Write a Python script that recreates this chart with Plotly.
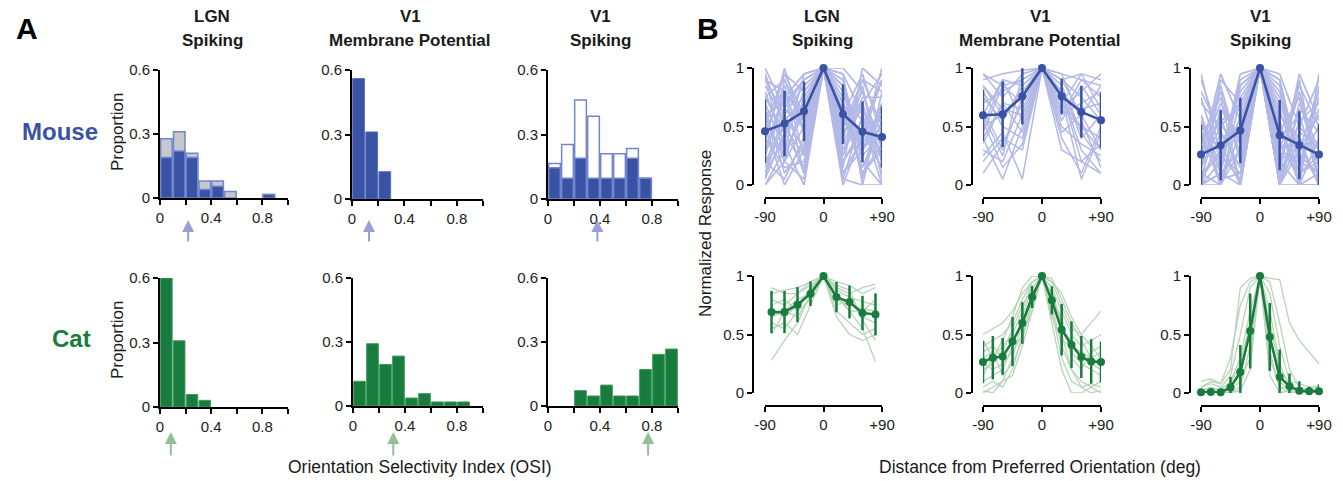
import plotly.graph_objects as go

W, H = 1343, 481
def fx(px): return px / W
def fy(py): return 1 - py / H

# ---------------- DATA ----------------
osi_bins = [0.05, 0.15, 0.25, 0.35, 0.45, 0.55, 0.65, 0.75, 0.85, 0.95]
mouse_lgn_all = [0.278, 0.31, 0.21, 0.08, 0.08, 0.03, 0, 0, 0.016, 0]
mouse_lgn_sel = [0.19, 0.22, 0.19, 0.04, 0.055, 0, 0, 0, 0.016, 0]
mouse_vm = [0.56, 0.312, 0.127, 0, 0, 0, 0, 0, 0, 0]
mouse_spk_all = [0.165, 0.254, 0.46, 0.385, 0.21, 0.21, 0.235, 0.096, 0, 0]
mouse_spk_sel = [0.145, 0.096, 0.19, 0.096, 0.096, 0.096, 0.19, 0.096, 0, 0]
cat_lgn = [0.6, 0.308, 0.058, 0.031, 0, 0, 0, 0, 0, 0]
cat_vm = [0.116, 0.292, 0.195, 0.234, 0.0375, 0.058, 0.019, 0.019, 0.019, 0]
cat_spk = [0, 0, 0.072, 0.047, 0.098, 0.047, 0.047, 0.171, 0.242, 0.267]
mouse_median_osi = [0.22, 0.13, 0.38]
cat_median_osi = [0.085, 0.31, 0.77]

ori_mouse = [-90, -60, -30, 0, 30, 60, 90]
ori_cat_lgn = [-80, -60, -40, -20, 0, 20, 40, 60, 80]
ori_cat_v1 = [-90, -75, -60, -45, -30, -15, 0, 15, 30, 45, 60, 75, 90]

mouse_lgn_mean = [0.46, 0.525, 0.63, 1, 0.605, 0.455, 0.41]
mouse_lgn_sd = [0.27, 0.28, 0.255, 0, 0.255, 0.26, 0.26]
mouse_vm_mean = [0.597, 0.605, 0.758, 1, 0.758, 0.625, 0.554]
mouse_vm_sd = [0.22, 0.28, 0.24, 0, 0.15, 0.22, 0.235]
mouse_spk_mean = [0.26, 0.34, 0.466, 1, 0.426, 0.34, 0.26]
mouse_spk_sd = [0.257, 0.3, 0.28, 0, 0.3, 0.29, 0.26]
cat_lgn_mean = [0.692, 0.692, 0.755, 0.849, 1, 0.82, 0.778, 0.684, 0.672]
cat_lgn_sd = [0.18, 0.18, 0.15, 0.105, 0, 0.13, 0.14, 0.147, 0.18]
cat_vm_mean = [0.265, 0.302, 0.313, 0.44, 0.598, 0.82, 1, 0.792, 0.541, 0.413, 0.308, 0.27, 0.265]
cat_vm_sd = [0.18, 0.185, 0.157, 0.21, 0.178, 0.094, 0, 0.12, 0.22, 0.2, 0.18, 0.19, 0.176]
cat_spk_mean = [0.006, 0.009, 0.006, 0.048, 0.18, 0.53, 1, 0.479, 0.137, 0.057, 0.02, 0.014, 0.014]
cat_spk_sd = [0.02, 0.02, 0.02, 0.09, 0.23, 0.32, 0, 0.29, 0.235, 0.11, 0.08, 0.04, 0.06]

mouse_lgn_cells = [
    [0.9, 0.6, 0.3, 1, 0.5, 0.8, 0.2], [0.1, 0.4, 0.8, 1, 0.9, 0.3, 0.6],
    [0.5, 0.95, 0.6, 1, 0.2, 0.5, 0.9], [0.0, 0.2, 0.5, 1, 0.7, 0.1, 0.3],
    [0.7, 0.3, 0.95, 1, 0.4, 0.9, 0.5], [0.3, 0.8, 0.1, 1, 0.95, 0.6, 0.1],
    [0.95, 0.5, 0.7, 1, 0.1, 0.3, 0.7], [0.2, 0.05, 0.4, 1, 0.6, 0.95, 0.4],
    [0.6, 0.7, 0.9, 1, 0.8, 0.2, 0.0], [0.4, 0.15, 0.2, 1, 0.3, 0.7, 0.95],
    [0.05, 0.9, 0.55, 1, 0.0, 0.45, 0.15], [0.8, 0.35, 0.0, 1, 0.85, 0.05, 0.8],
    [0.15, 0.6, 0.85, 1, 0.45, 0.65, 0.25], [0.55, 0.25, 0.65, 1, 0.65, 0.15, 0.55],
    [0.35, 1.0, 0.45, 1, 0.25, 0.85, 0.05], [0.75, 0.45, 0.15, 1, 0.55, 0.35, 0.65],
    [0.25, 0.75, 0.95, 1, 0.75, 0.55, 0.35], [0.65, 0.1, 0.35, 1, 0.15, 1.0, 0.85],
    [0.85, 0.55, 0.75, 1, 0.9, 0.25, 0.45], [0.45, 0.85, 0.25, 1, 0.35, 0.75, 0.75],
    [0.0, 0.3, 0.6, 1, 0.05, 0.0, 0.0], [1.0, 0.65, 0.5, 1, 0.7, 0.4, 0.9],
    [0.6, 0.2, 0.75, 1, 0.05, 0.6, 0.1], [0.1, 0.55, 0.1, 1, 0.5, 0.9, 0.8],
    [0.9, 0.8, 0.55, 1, 0.6, 0.1, 0.35], [0.3, 0.65, 0.9, 1, 0.2, 0.45, 0.6],
    [0.5, 0.0, 0.3, 1, 1.0, 0.8, 0.3], [0.75, 0.9, 0.45, 1, 0.3, 0.55, 0.0],
    [0.05, 0.45, 0.7, 1, 0.85, 0.3, 0.5], [0.95, 0.2, 0.05, 1, 0.45, 0.7, 0.2],
    [0.4, 0.95, 0.8, 1, 0.95, 0.0, 0.7], [0.2, 0.5, 0.25, 1, 0.1, 0.4, 1.0],
]
mouse_vm_cells = [
    [0.9, 0.95, 0.98, 1, 0.95, 0.9, 0.85], [0.5, 0.6, 0.8, 1, 0.7, 0.5, 0.4],
    [0.3, 0.2, 0.6, 1, 0.9, 0.6, 0.3], [0.7, 0.8, 0.9, 1, 0.6, 0.7, 0.8],
    [0.1, 0.35, 0.7, 1, 0.8, 0.3, 0.1], [0.8, 0.5, 0.4, 1, 0.55, 0.85, 0.6],
    [0.6, 0.9, 0.85, 1, 0.85, 0.45, 0.2], [0.4, 0.05, 0.5, 1, 0.4, 0.1, 0.5],
    [0.95, 0.75, 0.95, 1, 0.7, 0.95, 0.9], [0.25, 0.45, 0.05, 1, 0.75, 0.65, 0.7],
    [0.65, 0.3, 0.75, 1, 0.95, 0.55, 0.15], [0.85, 0.65, 0.6, 1, 0.65, 0.8, 0.95],
    [0.45, 0.85, 0.9, 1, 0.5, 0.35, 0.25], [0.55, 0.15, 0.35, 1, 0.9, 0.75, 0.55],
    [0.75, 0.55, 0.85, 1, 0.8, 0.2, 0.35], [0.35, 0.7, 0.65, 1, 0.6, 0.9, 0.75],
    [0.2, 0.4, 0.3, 1, 0.3, 0.2, 0.1], [0.85, 0.6, 0.8, 1, 0.85, 0.4, 0.6],
    [0.5, 0.9, 0.55, 1, 0.45, 0.6, 0.85], [0.6, 0.25, 0.95, 1, 0.75, 0.05, 0.45],
    [0.95, 0.85, 0.7, 1, 0.9, 0.95, 0.65], [0.4, 0.7, 0.45, 1, 0.65, 0.5, 0.3],
]
mouse_spk_cells = [
    [0.0, 0.1, 0.3, 1, 0.2, 0.0, 0.1], [0.5, 0.3, 0.8, 1, 0.6, 0.4, 0.0],
    [0.2, 0.6, 0.0, 1, 0.0, 0.7, 0.3], [0.9, 0.4, 0.5, 1, 0.9, 0.2, 0.5],
    [0.1, 0.0, 0.6, 1, 0.3, 0.5, 0.9], [0.35, 0.8, 0.2, 1, 0.5, 0.1, 0.2],
    [0.0, 0.2, 0.95, 1, 0.1, 0.9, 0.0], [0.7, 0.5, 0.4, 1, 0.75, 0.3, 0.6],
    [0.15, 0.9, 0.7, 1, 0.0, 0.0, 0.4], [0.4, 0.05, 0.1, 1, 0.4, 0.6, 0.05],
    [0.05, 0.3, 0.55, 1, 0.85, 0.15, 0.75], [0.6, 0.15, 0.85, 1, 0.2, 0.8, 0.15],
    [0.25, 0.7, 0.35, 1, 0.6, 0.35, 0.0], [0.0, 0.0, 0.45, 1, 0.95, 0.5, 0.3],
    [0.8, 0.45, 0.15, 1, 0.35, 0.05, 0.85], [0.3, 0.55, 0.65, 1, 0.05, 0.65, 0.45],
    [0.1, 0.25, 0.05, 1, 0.7, 0.25, 0.1], [0.45, 0.0, 0.75, 1, 0.15, 0.95, 0.55],
    [0.0, 0.85, 0.25, 1, 0.5, 0.0, 0.95], [0.2, 0.35, 0.0, 1, 0.0, 0.4, 0.2],
    [0.55, 0.1, 0.0, 1, 0.25, 0.2, 0.65], [0.05, 0.65, 0.4, 1, 0.8, 0.0, 0.0],
    [0.75, 0.2, 0.9, 1, 0.1, 0.45, 0.35], [0.0, 0.45, 0.15, 1, 0.45, 0.75, 0.05],
    [0.25, 0.95, 0.55, 1, 0.0, 0.3, 0.8], [0.6, 0.0, 0.3, 1, 0.65, 0.1, 0.25],
    [0.15, 0.5, 0.7, 1, 0.3, 0.85, 0.5], [0.95, 0.25, 0.1, 1, 0.9, 0.2, 0.1],
    [0.0, 0.1, 0.85, 1, 0.0, 0.55, 0.7], [0.4, 0.75, 0.0, 1, 0.55, 0.0, 0.0],
]
cat_lgn_cells = [
    [0.28, 0.45, 0.6, 0.85, 1, 0.85, 0.7, 0.55, 0.27],
    [0.85, 0.88, 0.9, 0.95, 1, 0.95, 0.92, 0.85, 0.9],
    [0.75, 0.8, 0.7, 0.9, 1, 0.8, 0.75, 0.72, 0.7],
    [0.6, 0.55, 0.7, 0.8, 1, 0.7, 0.6, 0.5, 0.55],
    [0.9, 0.85, 0.85, 0.95, 1, 0.9, 0.85, 0.9, 0.93],
    [0.65, 0.7, 0.8, 0.85, 1, 0.75, 0.8, 0.65, 0.6],
    [0.55, 0.6, 0.5, 0.75, 1, 0.65, 0.5, 0.45, 0.5],
    [0.8, 0.75, 0.85, 0.92, 1, 0.88, 0.82, 0.78, 0.75],
    [0.7, 0.65, 0.75, 0.88, 1, 0.82, 0.7, 0.7, 0.8],
    [0.5, 0.7, 0.65, 0.82, 1, 0.92, 0.88, 0.62, 0.45],
]
cat_vm_cells = [
    [0.0, 0.05, 0.1, 0.3, 0.6, 0.85, 1, 0.8, 0.5, 0.2, 0.05, 0.0, 0.02],
    [0.4, 0.45, 0.5, 0.6, 0.8, 0.95, 1, 0.9, 0.7, 0.5, 0.4, 0.45, 0.5],
    [0.2, 0.25, 0.35, 0.55, 0.75, 0.9, 1, 0.85, 0.6, 0.35, 0.25, 0.2, 0.15],
    [0.1, 0.15, 0.2, 0.4, 0.65, 0.9, 1, 0.75, 0.4, 0.2, 0.1, 0.05, 0.1],
    [0.35, 0.4, 0.3, 0.45, 0.55, 0.8, 1, 0.95, 0.75, 0.55, 0.5, 0.6, 0.7],
    [0.05, 0.1, 0.05, 0.2, 0.5, 0.75, 1, 0.7, 0.3, 0.1, 0.05, 0.08, 0.05],
    [0.5, 0.55, 0.6, 0.7, 0.85, 0.95, 1, 0.95, 0.85, 0.65, 0.5, 0.4, 0.3],
    [0.25, 0.2, 0.25, 0.35, 0.5, 0.7, 1, 0.65, 0.45, 0.4, 0.35, 0.3, 0.35],
    [0.15, 0.3, 0.4, 0.5, 0.7, 0.95, 1, 0.9, 0.55, 0.45, 0.3, 0.25, 0.2],
    [0.3, 0.35, 0.15, 0.25, 0.45, 0.8, 1, 0.8, 0.65, 0.3, 0.2, 0.35, 0.4],
    [0.45, 0.3, 0.45, 0.65, 0.9, 1, 1, 0.98, 0.8, 0.6, 0.45, 0.3, 0.25],
    [0.02, 0.0, 0.1, 0.15, 0.4, 0.7, 1, 0.6, 0.2, 0.0, 0.0, 0.05, 0.0],
]
cat_spk_cells = [
    [0.0, 0.0, 0.0, 0.0, 0.05, 0.4, 1, 0.35, 0.05, 0.0, 0.0, 0.0, 0.0],
    [0.02, 0.05, 0.02, 0.1, 0.3, 0.7, 1, 0.7, 0.25, 0.05, 0.02, 0.0, 0.02],
    [0.05, 0.08, 0.05, 0.15, 0.5, 0.9, 1, 0.95, 0.6, 0.2, 0.05, 0.03, 0.05],
    [0.0, 0.03, 0.0, 0.05, 0.15, 0.55, 1, 0.5, 0.1, 0.02, 0.0, 0.0, 0.0],
    [0.1, 0.12, 0.08, 0.2, 0.9, 0.98, 1, 0.98, 0.97, 0.6, 0.45, 0.35, 0.25],
    [0.03, 0.02, 0.04, 0.08, 0.25, 0.6, 1, 0.3, 0.05, 0.04, 0.03, 0.02, 0.04],
    [0.0, 0.0, 0.02, 0.0, 0.02, 0.2, 1, 0.15, 0.0, 0.02, 0.0, 0.0, 0.0],
    [0.05, 0.1, 0.08, 0.3, 0.75, 0.95, 1, 0.85, 0.4, 0.1, 0.08, 0.05, 0.06],
    [0.0, 0.02, 0.0, 0.03, 0.1, 0.3, 1, 0.6, 0.2, 0.08, 0.0, 0.0, 0.02],
]

# ---------------- STYLE ----------------
BLUE = "#3a52a3"
BLUE_EDGE = "#7285cf"
LIGHT_BLUE = "#b3b9e6"
GRAY = "#c7c8ca"
GREEN = "#177c3d"
LIGHT_GREEN = "#b7d4b8"
ARROW_BLUE = "#9a9fd8"
ARROW_GREEN = "#93bf95"
FONT = "Liberation Sans, Arial, sans-serif"
TICK_SIZE = 15

fig = go.Figure()
layout = dict(template="none", width=W, height=H, autosize=False,
              margin=dict(l=0, r=0, t=0, b=0, pad=0, autoexpand=False),
              paper_bgcolor="white", plot_bgcolor="rgba(0,0,0,0)",
              showlegend=False, barmode="overlay",
              font=dict(family=FONT, size=14, color="#1a1a1a"))
annotations = []

def nz(v):
    return [None if a == 0 else a for a in v]

axis_common = dict(showline=True, linecolor="black", linewidth=2, ticks="outside",
                   ticklen=5, tickwidth=2, tickcolor="black", showgrid=False,
                   zeroline=False, automargin=False, fixedrange=True,
                   tickfont=dict(size=TICK_SIZE, color="#222", family=FONT))

# Panel A histograms: (x px left, x px right, y px top(0.6), y px bottom(0))
hist_boxes = [
    (160, 288, 70, 198), (352, 483, 70, 199), (548, 678, 70, 199),
    (160, 288, 278, 407), (353, 483, 278, 406), (548, 678, 278, 406),
]
for i, (x0, x1, y0, y1) in enumerate(hist_boxes):
    n = i + 1
    layout[f"xaxis{n}"] = dict(axis_common, domain=[fx(x0), fx(x1)], range=[0, 1.0],
                               anchor=f"y{n}", tickvals=[0, 0.2, 0.4, 0.6, 0.8, 1.0],
                               ticktext=["0", "", "0.4", "", "0.8", ""])
    layout[f"yaxis{n}"] = dict(axis_common, domain=[fy(y1), fy(y0)], range=[0, 0.6],
                               anchor=f"x{n}", tickvals=[0, 0.3, 0.6],
                               ticktext=["0", "0.3", "0.6"])

def bar(n, vals, fill, edge, ew, width=0.09):
    fig.add_trace(go.Bar(x=osi_bins, y=nz(vals), width=width, xaxis=f"x{n}", yaxis=f"y{n}",
                         marker=dict(color=fill, line=dict(color=edge, width=ew))))

bar(1, mouse_lgn_all, GRAY, BLUE_EDGE, 1.5)
bar(1, mouse_lgn_sel, BLUE, BLUE_EDGE, 1.5)
bar(2, mouse_vm, BLUE, "#5b6fbd", 1)
bar(3, mouse_spk_all, "white", BLUE_EDGE, 1.5)
bar(3, mouse_spk_sel, BLUE, BLUE_EDGE, 1.5)
bar(4, cat_lgn, GREEN, "#3f9a5b", 1)
bar(5, cat_vm, GREEN, "#3f9a5b", 1)
bar(6, cat_spk, GREEN, "#3f9a5b", 1)

# median arrows
for k, v in enumerate(mouse_median_osi):
    annotations.append(dict(x=v, xref=f"x{k+1}", y=fy(220), yref="paper", text="",
                            showarrow=True, ax=0, ay=23, arrowhead=2, arrowsize=1.2,
                            arrowwidth=2, arrowcolor=ARROW_BLUE))
for k, v in enumerate(cat_median_osi):
    annotations.append(dict(x=v, xref=f"x{k+4}", y=fy(432), yref="paper", text="",
                            showarrow=True, ax=0, ay=25, arrowhead=2, arrowsize=1.2,
                            arrowwidth=2, arrowcolor=ARROW_GREEN))

# Panel B tuning curves: (y-axis px, x px at -90, x px at +90, y px at 1, y px at 0, x-axis y px)
tune_boxes = [
    (753, 765, 882, 68, 185, 198), (972, 983, 1101, 68, 185, 198), (1190, 1201, 1319, 68, 185, 198),
    (753, 765, 882, 276, 393, 406), (972, 983, 1101, 276, 393, 406), (1190, 1201, 1319, 276, 393, 406),
]
for i, (ya, x0, x1, y1p, y0p, xa) in enumerate(tune_boxes):
    n = i + 7
    layout[f"xaxis{n}"] = dict(axis_common, domain=[fx(x0), fx(x1)], range=[-90, 90],
                               anchor="free", position=fy(xa), tickvals=[-90, 0, 90],
                               ticktext=["-90", "0", "+90"])
    layout[f"yaxis{n}"] = dict(axis_common, domain=[fy(y0p), fy(y1p)], range=[0, 1],
                               anchor="free", position=fx(ya),
                               tickvals=[0, 0.5, 1], ticktext=["0", "0.5", "1"])

tune_sets = [
    (ori_mouse, mouse_lgn_cells, mouse_lgn_mean, mouse_lgn_sd, LIGHT_BLUE, BLUE, 1.7),
    (ori_mouse, mouse_vm_cells, mouse_vm_mean, mouse_vm_sd, LIGHT_BLUE, BLUE, 1.5),
    (ori_mouse, mouse_spk_cells, mouse_spk_mean, mouse_spk_sd, LIGHT_BLUE, BLUE, 1.7),
    (ori_cat_lgn, cat_lgn_cells, cat_lgn_mean, cat_lgn_sd, LIGHT_GREEN, GREEN, 1.3),
    (ori_cat_v1, cat_vm_cells, cat_vm_mean, cat_vm_sd, LIGHT_GREEN, GREEN, 1.3),
    (ori_cat_v1, cat_spk_cells, cat_spk_mean, cat_spk_sd, LIGHT_GREEN, GREEN, 1.3),
]
for i, (xs, cells, mean, sd, lc, dc, lw) in enumerate(tune_sets):
    n = i + 7
    for c in cells:
        fig.add_trace(go.Scatter(x=xs, y=c, mode="lines", xaxis=f"x{n}", yaxis=f"y{n}",
                                 line=dict(color=lc, width=lw), hoverinfo="skip"))
    fig.add_trace(go.Scatter(x=xs, y=mean, mode="lines+markers", xaxis=f"x{n}", yaxis=f"y{n}",
                             cliponaxis=False,
                             line=dict(color=dc, width=2.5),
                             marker=dict(color=dc, size=8),
                             error_y=dict(type="data", array=sd, visible=True,
                                          color=dc, thickness=2.5, width=0)))

# ---------------- TEXT ----------------
def txt(x, y, s, size=14, bold=False, color="#1a1a1a", angle=0):
    if bold:
        s = f"<b>{s}</b>"
    annotations.append(dict(x=fx(x), y=fy(y), xref="paper", yref="paper", text=s,
                            showarrow=False, textangle=angle,
                            font=dict(size=size, color=color, family=FONT),
                            xanchor="center", yanchor="middle"))

txt(27, 28, "A", 30, True, "black")
txt(708, 28, "B", 30, True, "black")
for cx, l1, l2 in [(212, "LGN", "Spiking"), (410, "V1", "Membrane Potential"), (600, "V1", "Spiking"),
                   (822, "LGN", "Spiking"), (1040, "V1", "Membrane Potential"), (1260, "V1", "Spiking")]:
    txt(cx, 16, l1, 17, True, "#1a1a1a")
    txt(cx, 40, l2, 17, True, "#1a1a1a")
txt(60, 131, "Mouse", 24, True, BLUE)
txt(71, 338, "Cat", 24, True, GREEN)
txt(117, 132, "Proportion", 17, angle=-90)
txt(117, 340, "Proportion", 17, angle=-90)
txt(705, 234, "Normalized Response", 17, angle=-90)
txt(420, 467, "Orientation Selectivity Index (OSI)", 17.5)
txt(1040, 467, "Distance from Preferred Orientation (deg)", 17.5)

layout["annotations"] = annotations
fig.update_layout(**layout)
fig.write_html("out.html", config={"displayModeBar": False},
               post_script="document.body.style.margin='0';document.body.style.overflow='hidden';")
